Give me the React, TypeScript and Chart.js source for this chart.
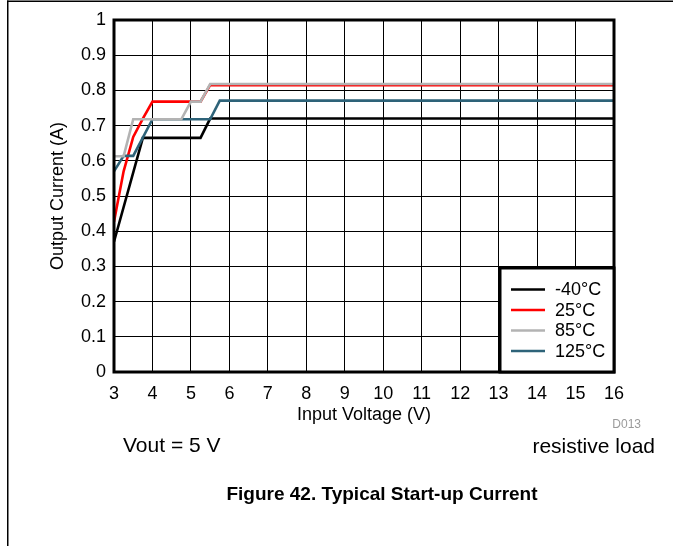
import React, { useEffect, useRef } from 'react';
import { Chart, registerables } from 'chart.js';

Chart.register(...registerables);

// ---- data ----
const xTickValues = [3, 4, 5, 6, 7, 8, 9, 10, 11, 12, 13, 14, 15, 16];
const yTickLabels = ['0', '0.1', '0.2', '0.3', '0.4', '0.5', '0.6', '0.7', '0.8', '0.9', '1'];
const seriesNames = ['-40°C', '25°C', '85°C', '125°C'];

const voltsM40 = [3, 3.75, 5.25, 5.5, 16];
const ampsM40 = [0.37, 0.665, 0.665, 0.72, 0.72];

const volts25 = [3, 3.25, 3.5, 3.75, 4, 5.25, 5.5, 16];
const amps25 = [0.427, 0.57, 0.668, 0.72, 0.768, 0.768, 0.815, 0.815];

const volts85 = [3, 3.25, 3.5, 4.75, 5, 5.25, 5.5, 16];
const amps85 = [0.613, 0.613, 0.718, 0.718, 0.768, 0.768, 0.818, 0.818];

const volts125 = [3, 3.25, 3.5, 4, 5.5, 5.75, 16];
const amps125 = [0.57, 0.614, 0.614, 0.718, 0.718, 0.771, 0.771];

const seriesColors = ['#000000', '#ff0000', '#b3b3b3', '#2e6379'];
const drawOrder = [2, 3, 0, 1];

const FONT = '"Liberation Sans", Arial, Helvetica, sans-serif';

const pairs = (xs: number[], ys: number[]) => xs.map((x, i) => ({ x, y: ys[i] }));

const decorPlugin = {
  id: 'decor',
  beforeDraw(chart: any) {
    const ctx = chart.ctx;
    ctx.save();
    ctx.fillStyle = '#ffffff';
    ctx.fillRect(0, 0, chart.width, chart.height);
    ctx.restore();
  },
  afterDatasetsDraw(chart: any) {
    const ctx = chart.ctx;
    const { left, top, right, bottom } = chart.chartArea;
    ctx.save();
    // plot frame
    ctx.strokeStyle = '#000';
    ctx.lineWidth = 3;
    ctx.strokeRect(left, top, right - left, bottom - top);
    // legend box
    const bw = 114;
    const bh = 104;
    const bx = right - bw;
    const by = bottom - bh;
    ctx.fillStyle = '#fff';
    ctx.fillRect(bx, by, bw, bh);
    ctx.strokeRect(bx, by, bw, bh);
    ctx.font = `18px ${FONT}`;
    ctx.textBaseline = 'middle';
    ctx.textAlign = 'left';
    seriesNames.forEach((name, i) => {
      const y = by + 21.5 + i * 20.5;
      ctx.strokeStyle = seriesColors[i];
      ctx.lineWidth = 2.5;
      ctx.beginPath();
      ctx.moveTo(bx + 11, y);
      ctx.lineTo(bx + 45, y);
      ctx.stroke();
      ctx.fillStyle = '#000';
      ctx.fillText(name, bx + 55, y + 1);
    });
    ctx.restore();
  },
  afterDraw(chart: any) {
    const ctx = chart.ctx;
    ctx.save();
    // page frame
    ctx.fillStyle = '#000';
    ctx.fillRect(7, 0.5, 1.5, 546);
    ctx.fillRect(7, 0.5, 666, 1.5);
    // notes
    ctx.fillStyle = '#9a9a9a';
    ctx.font = `12px ${FONT}`;
    ctx.textAlign = 'right';
    ctx.textBaseline = 'middle';
    ctx.fillText('D013', 641, 425);
    ctx.fillStyle = '#000';
    ctx.font = `21px ${FONT}`;
    ctx.textBaseline = 'alphabetic';
    ctx.textAlign = 'left';
    ctx.fillText('Vout = 5 V', 123, 452);
    ctx.textAlign = 'right';
    ctx.fillText('resistive load', 655, 453);
    ctx.font = `bold 19px ${FONT}`;
    ctx.textAlign = 'center';
    ctx.textBaseline = 'middle';
    ctx.fillText('Figure 42. Typical Start-up Current', 382, 495);
    ctx.restore();
  },
};

export default function App() {
  const ref = useRef<HTMLCanvasElement>(null);
  useEffect(() => {
    const datasetsSrc = [
      pairs(voltsM40, ampsM40),
      pairs(volts25, amps25),
      pairs(volts85, amps85),
      pairs(volts125, amps125),
    ];
    const chart = new Chart(ref.current as HTMLCanvasElement, {
      type: 'line',
      data: {
        datasets: datasetsSrc.map((d, i) => ({
          label: seriesNames[i],
          data: d,
          borderColor: seriesColors[i],
          backgroundColor: seriesColors[i],
          borderWidth: 2.6,
          pointRadius: 0,
          tension: 0,
          fill: false,
          order: drawOrder[i],
          borderJoinStyle: 'miter' as const,
        })),
      },
      options: {
        responsive: false,
        animation: false,
        devicePixelRatio: 1,
        layout: { padding: { left: 8, top: 20, right: 59, bottom: 120 } },
        plugins: { legend: { display: false }, tooltip: { enabled: false } },
        scales: {
          x: {
            type: 'linear',
            min: 3,
            max: 16,
            afterBuildTicks: (s: any) => {
              s.ticks = xTickValues.map((v) => ({ value: v }));
            },
            afterFit: (s: any) => {
              s.height = 54;
            },
            ticks: {
              color: '#000',
              padding: 11,
              maxRotation: 0,
              autoSkip: false,
              font: { family: FONT, size: 18 },
              callback: (v: any) => String(v),
            },
            grid: { color: '#000', lineWidth: 1, drawTicks: false },
            border: { display: false },
            title: {
              display: true,
              text: 'Input Voltage (V)',
              color: '#000',
              font: { family: FONT, size: 18 },
              padding: { top: 0, bottom: 0 },
            },
          },
          y: {
            type: 'linear',
            min: 0,
            max: 1,
            afterBuildTicks: (s: any) => {
              s.ticks = yTickLabels.map((_, i) => ({ value: i / 10 }));
            },
            afterFit: (s: any) => {
              s.width = 106;
            },
            ticks: {
              color: '#000',
              padding: 8,
              autoSkip: false,
              font: { family: FONT, size: 18 },
              callback: (v: any) => yTickLabels[Math.round(Number(v) * 10)],
            },
            grid: { color: '#000', lineWidth: 1, drawTicks: false },
            border: { display: false },
            title: {
              display: true,
              text: 'Output Current (A)',
              color: '#000',
              font: { family: FONT, size: 18 },
              padding: { top: 39, bottom: 0 },
            },
          },
        },
      },
      plugins: [decorPlugin],
    } as any);
    return () => chart.destroy();
  }, []);
  return (
    <div style={{ position: 'fixed', left: 0, top: 0, width: 673, height: 546, background: '#fff' }}>
      <canvas ref={ref} width={673} height={546} style={{ display: 'block' }} />
    </div>
  );
}
